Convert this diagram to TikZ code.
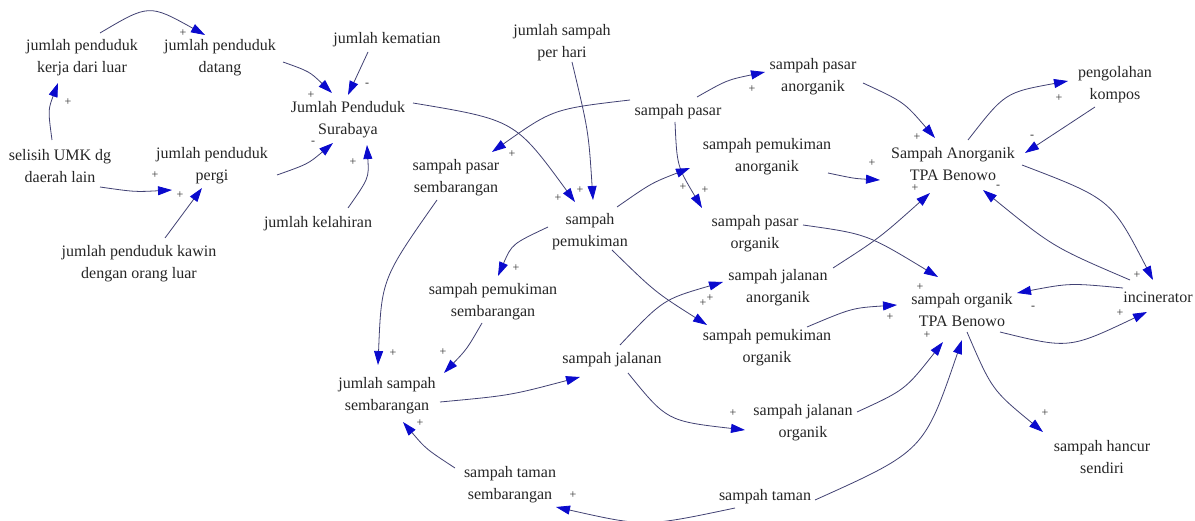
\documentclass[tikz,border=0pt]{standalone}
\usepackage{fontspec}
\setmainfont{Liberation Serif}
\usetikzlibrary{arrows.meta,calc}
\definecolor{lnkc}{RGB}{65,65,115}
\definecolor{tipc}{RGB}{10,10,205}
\begin{document}
\begin{tikzpicture}[x=1pt,y=-1pt,
 var/.style={align=center,inner sep=0pt,text=black!85,font=\fontsize{16}{22}\selectfont},
 lnk/.style={draw=lnkc,line width=0.8pt,-{Triangle[length=14pt,width=9pt,color=tipc]}},
 sgn/.style={inner sep=0pt,text=black!80,font=\fontsize{12}{12}\selectfont}]
\path[use as bounding box,fill=white] (0,0) rectangle (1195,521);

% variables
\node[var] (kerja) at (82,58) {jumlah penduduk\\kerja dari luar};
\node[var] (datang) at (220,58) {jumlah penduduk\\datang};
\node[var] (selisih) at (60,166) {selisih UMK dg\\daerah lain};
\node[var] (pergi) at (212,166) {jumlah penduduk\\pergi};
\node[var] (kawin) at (139,264) {jumlah penduduk kawin\\dengan orang luar};
\node[var] (kematian) at (387,40) {jumlah kematian};
\node[var] (jps) at (348,120) {Jumlah Penduduk\\Surabaya};
\node[var] (kelahiran) at (318,224) {jumlah kelahiran};
\node[var] (perhari) at (562,43) {jumlah sampah\\per hari};
\node[var] (pasarsemb) at (456,178) {sampah pasar\\sembarangan};
\node[var] (pasar) at (678,112) {sampah pasar};
\node[var] (pasaran) at (813,77) {sampah pasar\\anorganik};
\node[var] (pemukan) at (767,157) {sampah pemukiman\\anorganik};
\node[var] (tpaan) at (953,164) {Sampah Anorganik\\TPA Benowo};
\node[var] (kompos) at (1115,85) {pengolahan\\kompos};
\node[var] (pemukiman) at (590,232) {sampah\\pemukiman};
\node[var] (pasarorg) at (755,234) {sampah pasar\\organik};
\node[var] (pemuksemb) at (493,302) {sampah pemukiman\\sembarangan};
\node[var] (jalanan) at (778,288) {sampah jalanan\\anorganik};
\node[var] (tpaorg) at (962,310) {sampah organik\\TPA Benowo};
\node[var] (incin) at (1158,297) {incinerator};
\node[var] (pemukorg) at (767,348) {sampah pemukiman\\organik};
\node[var] (jmlsemb) at (387,396) {jumlah sampah\\sembarangan};
\node[var] (jalan) at (612,360) {sampah jalanan};
\node[var] (jalanorg) at (803,423) {sampah jalanan\\organik};
\node[var] (tamansemb) at (510,485) {sampah taman\\sembarangan};
\node[var] (taman) at (765,497) {sampah taman};
\node[var] (hancur) at (1102,457) {sampah hancur\\sendiri};

% links
\draw[lnk] ($(kerja)+(18,-25)$) .. controls (149,4) .. ($(datang)+(-15,-23)$);
\draw[lnk] ($(selisih)+(-8,-26)$) .. controls (48,110) .. ($(kerja)+(-24,25)$);
\draw[lnk] ($(selisih)+(40,21)$) .. controls (135,192) .. ($(pergi)+(-40,24)$);
\draw[lnk] ($(kawin)+(26,-26)$) -- ($(pergi)+(-10,22)$);
\draw[lnk] ($(datang)+(63,4)$) .. controls (309.5,71.5) .. ($(jps)+(-16,-27)$);
\draw[lnk] ($(kematian)+(-19,12)$) -- ($(jps)+(0,-25)$);
\draw[lnk] ($(pergi)+(65,9)$) .. controls (308,164) .. ($(jps)+(-15,23)$);
\draw[lnk] ($(kelahiran)+(30,-16)$) .. controls (369,178) .. ($(jps)+(19,25)$);
\draw[lnk] ($(jps)+(65,-17)$) .. controls (515,120) .. ($(pemukiman)+(-15,-30)$);
\draw[lnk] ($(perhari)+(10,19)$) .. controls (588.5,131) .. ($(pemukiman)+(3,-32)$);
\draw[lnk] ($(pasar)+(-48,-12)$) .. controls (553,109) .. ($(pasarsemb)+(36,-26)$);
\draw[lnk] ($(pasar)+(19,-15)$) .. controls (727,80) .. ($(pasaran)+(-48,-5)$);
\draw[lnk] ($(pasar)+(-3,10)$) .. controls (677,166) .. ($(pasarorg)+(-53,-26)$);
\draw[lnk] ($(pemukiman)+(27,-25)$) .. controls (651.5,183) .. ($(pemukan)+(-77,11)$);
\draw[lnk] ($(pasaran)+(50,6)$) .. controls (904,102) .. ($(tpaan)+(-18,-26)$);
\draw[lnk] ($(pemukan)+(61,16)$) .. controls (854,178.5) .. ($(tpaan)+(-73,16)$);
\draw[lnk] ($(tpaan)+(15,-24)$) .. controls (1005,92.5) .. ($(kompos)+(-47,-4)$);
\draw[lnk] ($(kompos)+(-20,22)$) -- ($(tpaan)+(72,-11)$);
\draw[lnk] ($(tpaan)+(69,1)$) .. controls (1111,199) .. ($(incin)+(-5,-17)$);
\draw[lnk] ($(incin)+(-28,-17)$) .. controls (1053,247) .. ($(tpaan)+(30,26)$);
\draw[lnk] ($(incin)+(-35,-9)$) .. controls (1070,283) .. ($(tpaorg)+(55,-17)$);
\draw[lnk] ($(tpaorg)+(38,22)$) .. controls (1069,349) .. ($(incin)+(-11,15)$);
\draw[lnk] ($(pasarorg)+(48,-9)$) .. controls (867,234) .. ($(tpaorg)+(-24,-33)$);
\draw[lnk] ($(jalanan)+(55,-20)$) .. controls (879.5,238) .. ($(tpaan)+(-23,29)$);
\draw[lnk] ($(pemukorg)+(40,-21)$) .. controls (852,308) .. ($(tpaorg)+(-65,-5)$);
\draw[lnk] ($(jalanorg)+(54,-11)$) .. controls (905,390) .. ($(tpaorg)+(-19,32)$);
\draw[lnk] ($(taman)+(50,3)$) .. controls (924,451) .. ($(tpaorg)+(0,30)$);
\draw[lnk] ($(tpaorg)+(5,22)$) .. controls (992,390) .. ($(hancur)+(-59,-25)$);
\draw[lnk] ($(pemukiman)+(22,18)$) .. controls (655,292) .. ($(pemukorg)+(-60,-23)$);
\draw[lnk] ($(jalan)+(8,-15)$) .. controls (663,299.5) .. ($(jalanan)+(-55,-6)$);
\draw[lnk] ($(jalan)+(16,13)$) .. controls (667,421) .. ($(jalanorg)+(-58,7)$);
\draw[lnk] ($(pemukiman)+(-42,-5)$) .. controls (512,244) .. ($(pemuksemb)+(5,-26)$);
\draw[lnk] ($(pasarsemb)+(-19,22)$) .. controls (381.5,279) .. ($(jmlsemb)+(-9,-31)$);
\draw[lnk] ($(pemuksemb)+(-11,21)$) .. controls (467,349) .. ($(jmlsemb)+(57,-23)$);
\draw[lnk] ($(jmlsemb)+(53,6)$) .. controls (510,395.5) .. ($(jalan)+(-32,17)$);
\draw[lnk] ($(tamansemb)+(-55,-17)$) .. controls (426,449) .. ($(jmlsemb)+(16,26)$);
\draw[lnk] ($(taman)+(-30,11)$) .. controls (645,527) .. ($(tamansemb)+(46,22)$);

% polarities
\node[sgn] (s1) at (183,33) {+};
\node[sgn] (s2) at (68,102) {+};
\node[sgn] (s3) at (155,175) {+};
\node[sgn] (s4) at (180,195) {+};
\node[sgn] (s5) at (311,95) {+};
\node[sgn] (s6) at (367,85) {-};
\node[sgn] (s7) at (313,143) {-};
\node[sgn] (s8) at (353,162) {+};
\node[sgn] (s9) at (558,198) {+};
\node[sgn] (s10) at (580,190) {+};
\node[sgn] (s11) at (512,154) {+};
\node[sgn] (s12) at (752,89) {+};
\node[sgn] (s13) at (705,190) {+};
\node[sgn] (s14) at (683,187) {+};
\node[sgn] (s15) at (917,137) {+};
\node[sgn] (s16) at (872,163) {+};
\node[sgn] (s17) at (1059,98) {+};
\node[sgn] (s18) at (1032,137) {-};
\node[sgn] (s19) at (1137,275) {+};
\node[sgn] (s20) at (998,187) {-};
\node[sgn] (s21) at (1033,308) {-};
\node[sgn] (s22) at (1120,313) {+};
\node[sgn] (s23) at (920,287) {+};
\node[sgn] (s24) at (915,188) {+};
\node[sgn] (s25) at (890,317) {+};
\node[sgn] (s26) at (927,335) {+};
\node[sgn] (s27) at (1045,413) {+};
\node[sgn] (s28) at (703,303) {+};
\node[sgn] (s29) at (710,298) {+};
\node[sgn] (s30) at (733,413) {+};
\node[sgn] (s31) at (516,268) {+};
\node[sgn] (s32) at (393,353) {+};
\node[sgn] (s33) at (443,352) {+};
\node[sgn] (s34) at (420,423) {+};
\node[sgn] (s35) at (573,495) {+};
\end{tikzpicture}
\end{document}
